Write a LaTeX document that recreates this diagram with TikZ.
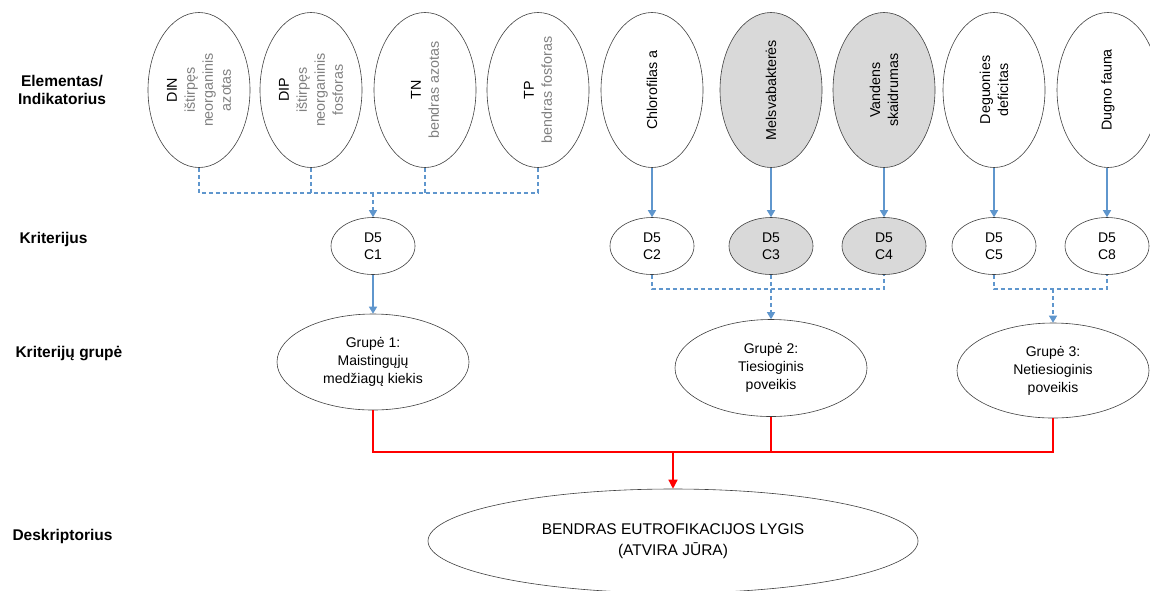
\documentclass[tikz,border=0pt]{standalone}
\usepackage{fontspec}
\setmainfont{Liberation Sans}
\usetikzlibrary{shapes.geometric,arrows.meta}
\definecolor{lnblue}{RGB}{95,150,205}
\definecolor{lnred}{RGB}{255,0,0}
\definecolor{fillgray}{RGB}{217,217,217}
\definecolor{txtgray}{RGB}{128,128,128}
\definecolor{outl}{RGB}{64,64,64}
\tikzset{
  ell/.style={ellipse, draw=outl, line width=0.6pt, inner sep=0pt, fill=white},
  topell/.style={ell, minimum width=102pt, minimum height=155pt},
  critell/.style={ell, minimum width=84pt, minimum height=57pt, align=center,
    font=\fontsize{14}{16.7}\selectfont},
  grpell/.style={ell, minimum width=192pt, minimum height=96pt, align=center,
    font=\fontsize{14}{18}\selectfont},
  shaded/.style={fill=fillgray},
  vtext/.style={rotate=90, align=center, font=\fontsize{14.3}{18}\selectfont},
  rowlab/.style={font=\bfseries\fontsize{15.5}{18}\selectfont, align=center},
  bluesolid/.style={draw=lnblue, line width=1.4pt, -{Triangle[width=8pt,length=7pt]}},
  bluedash/.style={draw=lnblue, line width=1.1pt, dash pattern=on 4pt off 3pt},
  bluedasharrow/.style={bluedash, -{Triangle[width=8pt,length=7pt]}},
  redline/.style={draw=lnred, line width=1.4pt},
}
\begin{document}
\begin{tikzpicture}[x=1pt,y=-1pt]
\useasboundingbox (0,0) rectangle (1150,590);
\clip (0,0) rectangle (1150,590);
\fill[white] (0,0) rectangle (1150,590);

% row labels
\node[rowlab] (lab1) at (62,90) {Elementas/\\Indikatorius};
\node[rowlab, anchor=west] (lab2) at (16,239) {Kriterijus};
\node[rowlab, anchor=west] (lab3) at (12,354) {Kriterijų grupė};
\node[rowlab, anchor=west] (lab4) at (9,536) {Deskriptorius};

% top ellipses
\node[topell] (din) at (199,90) {};
\node[vtext] (dint) at (din) {DIN\\\textcolor{txtgray}{ištirpęs}\\\textcolor{txtgray}{neorganinis}\\\textcolor{txtgray}{azotas}};
\node[topell] (dip) at (311,90) {};
\node[vtext] (dipt) at (dip) {DIP\\\textcolor{txtgray}{ištirpęs}\\\textcolor{txtgray}{neorganinis}\\\textcolor{txtgray}{fosforas}};
\node[topell] (tn) at (425,90) {};
\node[vtext] (tnt) at (tn) {TN\\\textcolor{txtgray}{bendras azotas}};
\node[topell] (tp) at (538,90) {};
\node[vtext] (tpt) at (tp) {TP\\\textcolor{txtgray}{bendras fosforas}};
\node[topell] (chl) at (652,90) {};
\node[vtext] (chlt) at (chl) {Chlorofilas a};
\node[topell, shaded] (mel) at (771,90) {};
\node[vtext] (melt) at (mel) {Melsvabakterės};
\node[topell, shaded] (van) at (884,90) {};
\node[vtext] (vant) at (van) {Vandens\\skaidrumas};
\node[topell] (deg) at (994,90) {};
\node[vtext] (degt) at (deg) {Deguonies\\deficitas};
\node[topell] (dug) at (1108,90) {};
\node[vtext] (dugt) at (dug) {Dugno fauna};

% criteria
\node[critell] (c1) at (373,246) {D5\\C1};
\node[critell] (c2) at (652,246) {D5\\C2};
\node[critell, shaded] (c3) at (771,246) {D5\\C3};
\node[critell, shaded] (c4) at (884,246) {D5\\C4};
\node[critell] (c5) at (994,246) {D5\\C5};
\node[critell] (c8) at (1107,246) {D5\\C8};

% groups
\node[grpell] (g1) at (373,362) {Grupė 1:\\Maistingųjų\\medžiagų kiekis};
\node[grpell, minimum height=97pt] (g2) at (771,368) {Grupė 2:\\Tiesioginis\\poveikis};
\node[grpell, minimum height=95pt] (g3) at (1053,370.5) {Grupė 3:\\Netiesioginis\\poveikis};

% descriptor
\node[ell, minimum width=490pt, minimum height=104pt, align=center,
  font=\fontsize{15.5}{21}\selectfont] (desc) at (673,541)
  {BENDRAS EUTROFIKACIJOS LYGIS\\(ATVIRA JŪRA)};

% bus coordinates
\coordinate (bus1) at (373,193);
\coordinate (bus2) at (771,289);
\coordinate (bus3) at (1053,289);
\coordinate (bus4) at (673,452);

% nutrient dashed connectors
\draw[bluedash] (din.south) -- (din.south |- bus1) -- (tp.south |- bus1) -- (tp.south);
\draw[bluedash] (dip.south) -- (dip.south |- bus1);
\draw[bluedash] (tn.south) -- (tn.south |- bus1);
\draw[bluedasharrow] (c1.north |- bus1) -- (c1.north);

% solid blue arrows
\draw[bluesolid] (chl.south) -- (c2.north);
\draw[bluesolid] (mel.south) -- (c3.north);
\draw[bluesolid] (van.south) -- (c4.north);
\draw[bluesolid] (deg.south) -- (c5.north);
\draw[bluesolid] (dug.south -| c8.north) -- (c8.north);
\draw[bluesolid] (c1.south) -- (g1.north);

% group 2 dashed
\draw[bluedash] (c2.south) -- (c2.south |- bus2) -- (c4.south |- bus2) -- (c4.south);
\draw[bluedasharrow] (c3.south) -- (g2.north);

% group 3 dashed
\draw[bluedash] (c5.south) -- (c5.south |- bus3) -- (c8.south |- bus3) -- (c8.south);
\draw[bluedasharrow] (g3.north |- bus3) -- (g3.north);

% red connectors
\draw[redline] (g1.south) -- (g1.south |- bus4) -- (g3.south |- bus4) -- (g3.south);
\draw[redline] (g2.south) -- (g2.south |- bus4);
\draw[redline, -{Triangle[width=9pt,length=9pt]}] (desc.north |- bus4) -- (desc.north);
\end{tikzpicture}
\end{document}
